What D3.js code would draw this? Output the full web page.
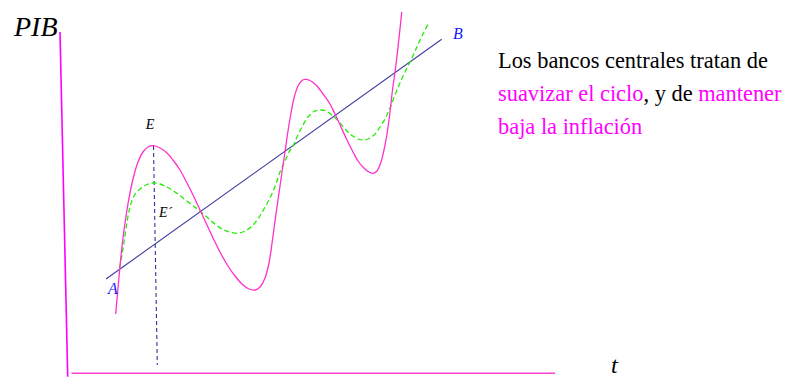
<!DOCTYPE html>
<html>
<head>
<meta charset="utf-8">
<script src="https://cdn.jsdelivr.net/npm/d3@7"></script>
<style>
  body { margin: 0; background: #fff; }
</style>
</head>
<body>
<div id="chart"></div>
<script>
  // curve points, in (t, PIB) units
  var pibReal = [
    [48.7, 59], [51, 85], [53, 107], [56, 135], [59.5, 160], [63, 180], [66.5, 196], [71, 211],
    [76, 221], [81, 226], [86.5, 227.3], [93, 225], [100, 220], [106, 213], [113, 203], [120, 190],
    [127, 176], [133, 163], [140, 148], [147, 133], [154, 119], [161, 107], [168, 97], [175, 89],
    [182, 84], [188, 83], [193, 86], [198, 95], [202, 110], [206, 137], [209, 159], [212, 180],
    [215, 201], [218, 221], [221, 242], [224, 260], [227, 275], [231, 287], [235, 292.5], [238, 293.7],
    [243, 292.5], [249, 288], [256, 279], [263, 269], [268, 259], [274, 246], [280, 233], [286, 221],
    [291, 212], [296, 206], [301, 201.5], [306, 199.7], [310, 202], [314, 211], [317, 223], [320, 239],
    [323, 261], [325.5, 283], [328, 301], [330, 317], [332, 335], [333.5, 349], [334.7, 361]
  ];

  var pibSuave = [
    [52.5, 105], [54.5, 115], [57, 131], [60, 151], [63, 166], [67, 177], [73, 184], [80, 188.5],
    [86, 190], [93, 189], [100, 186], [108, 181], [116, 175], [125, 168], [133, 162], [141, 155],
    [149, 148], [157, 143], [164, 140.5], [171, 139.7], [178, 142], [185, 147], [191, 154], [197, 164],
    [203, 175], [209, 189], [213, 201], [218, 212], [222, 221], [226, 227], [230, 236], [235, 246],
    [241, 256], [247, 261.5], [253, 263], [259, 262], [266, 257], [273, 250], [279, 243], [285, 237.5],
    [291, 234], [296, 233], [301, 234], [307, 238], [313, 246], [318, 254], [323, 265], [328, 278],
    [333, 290], [338, 301], [344, 313], [349, 324], [354, 335], [358, 343], [362, 350.3]
  ];

  var tendencia = [[39, 94], [374.7, 333.7]];
  var guiaE = [[86.5, 227], [90.3, 8]];
  var ejeY = [[-7, 341], [0.7, -3.7]];
  var ejeX = [[4.5, -0.3], [488, -0.3]];

  var etiquetas = [
    { text: "PIB", t: -53, v: 337, size: 28, color: "#000" },
    { text: "E", t: 78.7, v: 244, size: 14, color: "#000" },
    { text: "E´", t: 92, v: 156.3, size: 14, color: "#000" },
    { text: "A", t: 41, v: 79, size: 16, color: "#1a1aff" },
    { text: "B", t: 386, v: 334, size: 16, color: "#1a1aff" },
    { text: "t", t: 544, v: 0.5, size: 24, color: "#000" }
  ];

  var nota = [
    [{ s: "Los bancos centrales tratan de", c: "#000" }],
    [{ s: "suavizar el ciclo", c: "#ff00ff" }, { s: ", y de ", c: "#000" }, { s: "mantener", c: "#ff00ff" }],
    [{ s: "baja la inflación", c: "#ff00ff" }]
  ];

  var serif = "'Liberation Serif', 'Times New Roman', Times, 'DejaVu Serif', serif";

  var W = 786, H = 377;
  var svg = d3.select("#chart").append("svg")
    .attr("width", W)
    .attr("height", H)
    .style("display", "block");

  var x = d3.scaleLinear().domain([0, 488]).range([67, 555]);
  var y = d3.scaleLinear().domain([0, 341]).range([373, 32]);

  var line = d3.line()
    .x(function (d) { return x(d[0]); })
    .y(function (d) { return y(d[1]); });
  var smooth = d3.line()
    .x(function (d) { return x(d[0]); })
    .y(function (d) { return y(d[1]); })
    .curve(d3.curveCatmullRom.alpha(0.5));

  // axes
  svg.append("path").attr("d", line(ejeY))
    .attr("fill", "none").attr("stroke", "#ff00ff").attr("stroke-width", 1.6);
  svg.append("path").attr("d", line(ejeX))
    .attr("fill", "none").attr("stroke", "#ff40d0").attr("stroke-width", 1.4);

  // vertical guide under E
  svg.append("path").attr("d", line(guiaE))
    .attr("fill", "none").attr("stroke", "#333399").attr("stroke-width", 1.1)
    .attr("stroke-dasharray", "4,3");

  // trend line A-B
  svg.append("path").attr("d", line(tendencia))
    .attr("fill", "none").attr("stroke", "#3c3ca0").attr("stroke-width", 1.1);

  // smoothed cycle
  svg.append("path").attr("d", smooth(pibSuave))
    .attr("fill", "none").attr("stroke", "#22ee00").attr("stroke-width", 1.3)
    .attr("stroke-dasharray", "5,3");

  // actual cycle
  svg.append("path").attr("d", smooth(pibReal))
    .attr("fill", "none").attr("stroke", "#ff30cc").attr("stroke-width", 1.3);

  // labels
  svg.selectAll("text.lbl")
    .data(etiquetas)
    .enter()
    .append("text")
    .attr("class", "lbl")
    .attr("x", function (d) { return x(d.t); })
    .attr("y", function (d) { return y(d.v); })
    .attr("font-family", serif)
    .attr("font-size", function (d) { return d.size; })
    .attr("font-style", "italic")
    .attr("fill", function (d) { return d.color; })
    .text(function (d) { return d.text; });

  // note on the right
  var txt = svg.append("text")
    .attr("x", 498)
    .attr("y", 67.5)
    .attr("font-family", serif)
    .attr("font-size", 22.4);
  nota.forEach(function (row, i) {
    row.forEach(function (part, j) {
      var ts = txt.append("tspan")
        .attr("fill", part.c)
        .text(part.s);
      if (j === 0) ts.attr("x", 498).attr("y", 67.5 + i * 33.2);
    });
  });
</script>
</body>
</html>
